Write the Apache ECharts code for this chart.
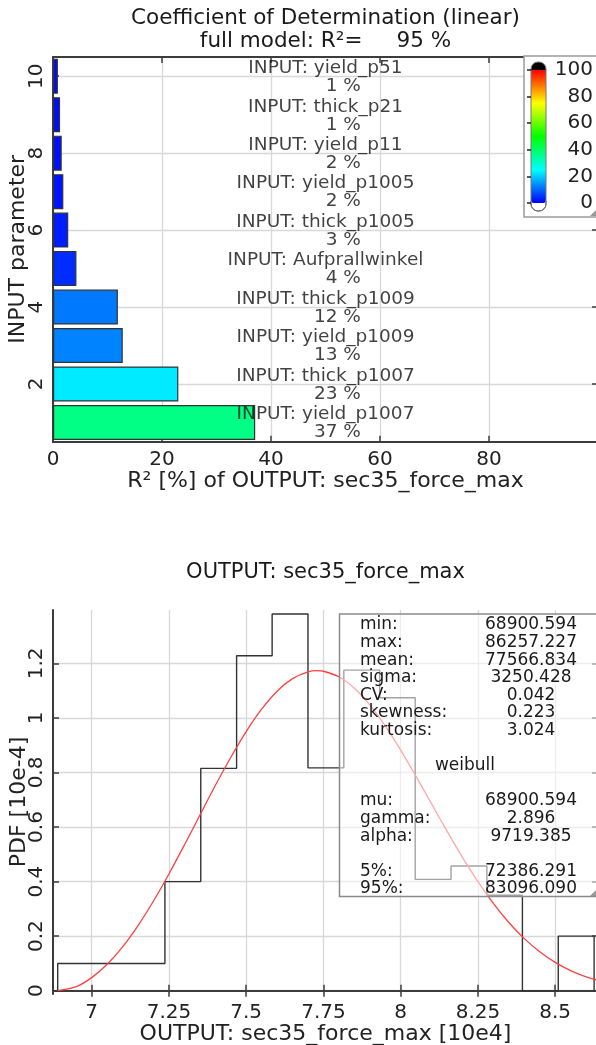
<!DOCTYPE html>
<html>
<head>
<meta charset="utf-8">
<script src="https://cdn.jsdelivr.net/npm/echarts@6/dist/echarts.min.js"></script>
<style>
html, body { margin: 0; padding: 0; background: #fff; }
#chart { width: 596px; height: 1045px; }
</style>
</head>
<body>
<div id="chart"></div>
<script>
// top chart: R2 of each input parameter, index 1 at the bottom
var paramNames = ['yield_p1007', 'thick_p1007', 'yield_p1009', 'thick_p1009', 'Aufprallwinkel',
    'thick_p1005', 'yield_p1005', 'yield_p11', 'thick_p21', 'yield_p51']
var r2Values = [37.1, 23.0, 12.8, 11.9, 4.3, 2.8, 1.9, 1.6, 1.3, 0.9]
var paramIds = ['1', '2', '3', '4', '5', '6', '7', '8', '9', '10']
var paramTicks = [2, 4, 6, 8, 10]
var fullModelR2 = 95

// bottom chart: histogram and weibull fit (x in 10e4, pdf in 10e-4)
var histEdges = [6.890, 7.006, 7.122, 7.237, 7.353, 7.469, 7.584, 7.700, 7.816, 7.932, 8.047, 8.163, 8.279, 8.394, 8.510, 8.626]
var histPdf = [0.10, 0.10, 0.10, 0.40, 0.815, 1.228, 1.381, 0.817, 1.175, 1.074, 0.408, 0.457, 0.35, 0.0, 0.20]
var fitX = [6.890, 6.95, 7.0, 7.05, 7.1, 7.15, 7.2, 7.25, 7.3, 7.35, 7.4, 7.45, 7.5, 7.55, 7.6, 7.65, 7.7, 7.73, 7.75,
    7.8, 7.85, 7.9, 7.95, 8.0, 8.05, 8.1, 8.15, 8.2, 8.25, 8.3, 8.35, 8.4, 8.45, 8.5, 8.55, 8.6, 8.64]
var fitPdf = [0, 0.015, 0.048, 0.097, 0.161, 0.239, 0.329, 0.428, 0.534, 0.643, 0.752, 0.855, 0.950, 1.032, 1.098,
    1.144, 1.169, 1.173, 1.171, 1.151, 1.109, 1.048, 0.971, 0.882, 0.785, 0.685, 0.585, 0.489, 0.400, 0.320, 0.250,
    0.191, 0.143, 0.104, 0.074, 0.051, 0.038]
var forceTicks = [7, 7.25, 7.5, 7.75, 8, 8.25, 8.5]
var pdfTicks = [0, 0.2, 0.4, 0.6, 0.8, 1, 1.2]

var statNames = ['min:', 'max:', 'mean:', 'sigma:', 'CV:', 'skewness:', 'kurtosis:']
var statValues = ['68900.594', '86257.227', '77566.834', '3250.428', '0.042', '0.223', '3.024']
var fitName = 'weibull'
var fitParamNames = ['mu:', 'gamma:', 'alpha:']
var fitParamValues = ['68900.594', '2.896', '9719.385']
var quantNames = ['5%:', '95%:']
var quantValues = ['72386.291', '83096.090']

var FONT = 'DejaVu Sans'
var frameLine = { show: true, lineStyle: { color: '#3c3c3c', width: 2 } }
var gridLine = { show: true, lineStyle: { color: '#d8d8d8', width: 1.3 } }
function innerTick(custom) {
    var t = { show: true, inside: true, length: 6, lineStyle: { color: '#3c3c3c', width: 1.5 } }
    if (custom) t.customValues = custom
    return t
}
var tickFont = { fontSize: 20, color: '#222', fontFamily: FONT }
var nameFont = { fontSize: 22, color: '#222', fontFamily: FONT }

// stats box texts
var rowH = 17.6
var statTop = 625
var boxTexts = []
function addRow(row, name, value) {
    boxTexts.push({ type: 'text', x: 360, y: statTop + row * rowH, z: 11,
        style: { text: name, font: '17px "DejaVu Sans"', fill: '#1a1a1a', align: 'left', verticalAlign: 'middle' } })
    boxTexts.push({ type: 'text', x: 531, y: statTop + row * rowH, z: 11,
        style: { text: value, font: '17px "DejaVu Sans"', fill: '#1a1a1a', align: 'center', verticalAlign: 'middle' } })
}
statNames.forEach(function (n, i) { addRow(i, n, statValues[i]) })
boxTexts.push({ type: 'text', x: 465, y: statTop + 8 * rowH, z: 11,
    style: { text: fitName, font: '17px "DejaVu Sans"', fill: '#1a1a1a', align: 'center', verticalAlign: 'middle' } })
fitParamNames.forEach(function (n, i) { addRow(10 + i, n, fitParamValues[i]) })
quantNames.forEach(function (n, i) { addRow(14 + i, n, quantValues[i]) })

var histLine = [[histEdges[0], 0]]
histPdf.forEach(function (h, i) { histLine.push([histEdges[i], h]) })
histLine.push([histEdges[histEdges.length - 1], histPdf[histPdf.length - 1]])
histLine.push([histEdges[histEdges.length - 1], 0])

var chart = echarts.init(document.getElementById('chart'), null, { renderer: 'canvas' })
chart.setOption({
    animation: false,
    textStyle: { fontFamily: FONT },
    grid: [
        { left: 53, top: 57, width: 545, height: 384.7, outerBoundsMode: 'none', containLabel: false },
        { left: 531, top: 70, width: 15, height: 133, outerBoundsMode: 'none', containLabel: false },
        { left: 53, top: 610, width: 545, height: 384, outerBoundsMode: 'none', containLabel: false }
    ],
    xAxis: [
        { type: 'value', gridIndex: 0, min: 0, max: 100, interval: 20, position: 'bottom',
            axisLine: frameLine, axisTick: innerTick(), splitLine: gridLine,
            axisLabel: Object.assign({ margin: 8, showMaxLabel: false }, tickFont),
            name: 'R² [%] of OUTPUT: sec35_force_max', nameLocation: 'middle', nameGap: 29, nameMoveOverlap: false, nameTextStyle: nameFont },
        { type: 'value', gridIndex: 0, min: 0, max: 100, interval: 20, position: 'top',
            axisLine: frameLine, axisTick: innerTick(), splitLine: { show: false }, axisLabel: { show: false } },
        { type: 'value', gridIndex: 1, min: 0, max: 1, show: false },
        { type: 'value', gridIndex: 2, min: 6.8748, max: 8.6386, position: 'bottom',
            axisLine: frameLine, axisTick: innerTick(forceTicks), splitLine: gridLine,
            axisLabel: Object.assign({ margin: 9, customValues: forceTicks }, tickFont),
            name: 'OUTPUT: sec35_force_max [10e4]', nameLocation: 'middle', nameGap: 29, nameMoveOverlap: false, nameTextStyle: nameFont },
        { type: 'value', gridIndex: 2, min: 6.8748, max: 8.6386, position: 'top',
            axisLine: frameLine, axisTick: innerTick(forceTicks), splitLine: { show: false }, axisLabel: { show: false } }
    ],
    yAxis: [
        { type: 'category', gridIndex: 0, data: paramIds, show: false },
        { type: 'value', gridIndex: 0, min: 0.5, max: 10.5, position: 'left',
            axisLine: frameLine, axisTick: innerTick(paramTicks), splitLine: gridLine,
            axisLabel: Object.assign({ rotate: 90, margin: 6, customValues: paramTicks }, tickFont),
            name: 'INPUT parameter', nameLocation: 'middle', nameGap: 24, nameMoveOverlap: false, nameTextStyle: nameFont },
        { type: 'value', gridIndex: 0, min: 0.5, max: 10.5, position: 'right',
            axisLine: frameLine, axisTick: innerTick(paramTicks), splitLine: { show: false }, axisLabel: { show: false } },
        { type: 'value', gridIndex: 1, min: 0, max: 100, interval: 20, position: 'right', z: 12,
            axisLine: { show: false }, splitLine: { show: false },
            axisTick: { show: true, inside: true, length: 4, lineStyle: { color: '#222', width: 1.5 } },
            axisLabel: Object.assign({ align: 'right', margin: 47 }, tickFont) },
        { type: 'value', gridIndex: 2, min: -0.012, max: 1.3955, position: 'left',
            axisLine: frameLine, axisTick: innerTick(pdfTicks), splitLine: gridLine,
            axisLabel: Object.assign({ rotate: 90, margin: 6, customValues: pdfTicks }, tickFont),
            name: 'PDF [10e-4]', nameLocation: 'middle', nameGap: 23, nameMoveOverlap: false, nameTextStyle: nameFont },
        { type: 'value', gridIndex: 2, min: -0.012, max: 1.3955, position: 'right',
            axisLine: frameLine, axisTick: innerTick(pdfTicks), splitLine: { show: false }, axisLabel: { show: false } }
    ],
    visualMap: {
        type: 'continuous', seriesIndex: 0, dimension: 0, min: 0, max: 100,
        inRange: { color: ['#0000ff', '#00ffff', '#00ff00', '#ffff00', '#ff0000'] },
        orient: 'vertical', left: 531, top: 70, itemWidth: 15, itemHeight: 133, padding: 0,
        calculable: false, hoverLink: false, text: null, z: 8
    },
    graphic: [
        { type: 'text', x: 325.5, y: 18, z: 10,
            style: { text: 'Coefficient of Determination (linear)', font: '21.5px "DejaVu Sans"', fill: '#1a1a1a', align: 'center', verticalAlign: 'middle' } },
        { type: 'text', x: 325.5, y: 41, z: 10,
            style: { text: 'full model: R²=     ' + fullModelR2 + ' %', font: '21.5px "DejaVu Sans"', fill: '#1a1a1a', align: 'center', verticalAlign: 'middle' } },
        { type: 'text', x: 325.5, y: 573, z: 10,
            style: { text: 'OUTPUT: sec35_force_max', font: '21px "DejaVu Sans"', fill: '#1a1a1a', align: 'center', verticalAlign: 'middle' } },
        // colour legend frame
        { type: 'rect', z: 1, shape: { x: 524, y: 56, width: 90, height: 161 },
            style: { fill: '#fff', stroke: '#9a9a9a', lineWidth: 1.5 } },
        { type: 'polygon', z: 2, shape: { points: [[596, 210], [590, 216], [596, 216]] }, style: { fill: '#999' } },
        { type: 'rect', z: 7, shape: { x: 531, y: 62, width: 15, height: 10, r: [7, 7, 0, 0] }, style: { fill: '#000' } },
        { type: 'rect', z: 7, shape: { x: 531, y: 201, width: 15, height: 10, r: [0, 0, 7, 7] }, style: { fill: '#fff', stroke: '#555', lineWidth: 1 } },
        { type: 'rect', z: 9, shape: { x: 531, y: 62, width: 15, height: 149, r: 7 }, style: { fill: 'none', stroke: '#777', lineWidth: 1 } },
        // stats box
        { type: 'rect', z: 10, shape: { x: 339.5, y: 614, width: 270, height: 282.5 },
            style: { fill: 'rgba(255,255,255,0.55)', stroke: '#8a8a8a', lineWidth: 1.5 } },
        { type: 'polygon', z: 11, shape: { points: [[596, 890], [590, 896], [596, 896]] }, style: { fill: '#999' } }
    ].concat(boxTexts),
    series: [
        { type: 'bar', xAxisIndex: 0, yAxisIndex: 0, barCategoryGap: '9%',
            data: r2Values.map(function (v, i) { return [v, i] }),
            itemStyle: { borderColor: '#333', borderWidth: 1.2 } },
        { type: 'scatter', xAxisIndex: 0, yAxisIndex: 0, symbolSize: 0.01, itemStyle: { color: 'transparent' },
            data: paramNames.map(function (n, i) { return { value: [50, i], name: n } }),
            label: { show: true, position: 'inside', offset: [0, -8], fontSize: 18.5, color: '#111', fontFamily: FONT,
                formatter: function (p) { return 'INPUT: ' + p.name } } },
        { type: 'scatter', xAxisIndex: 0, yAxisIndex: 0, symbolSize: 0.01, itemStyle: { color: 'transparent' },
            data: r2Values.map(function (v, i) { return [56.5, i] }),
            label: { show: true, position: 'inside', align: 'right', offset: [0, 10], fontSize: 18.5, color: '#111', fontFamily: FONT,
                formatter: function (p) { return Math.round(r2Values[p.dataIndex]) + ' %' } } },
        { type: 'line', xAxisIndex: 3, yAxisIndex: 4, step: 'end', symbol: 'none', data: histLine,
            lineStyle: { color: '#333', width: 1.4 } },
        { type: 'line', xAxisIndex: 3, yAxisIndex: 4, smooth: 0.3, symbol: 'none',
            data: fitX.map(function (x, i) { return [x, fitPdf[i]] }),
            lineStyle: { color: '#ff4040', width: 1.3 } }
    ]
})
</script>
</body>
</html>
